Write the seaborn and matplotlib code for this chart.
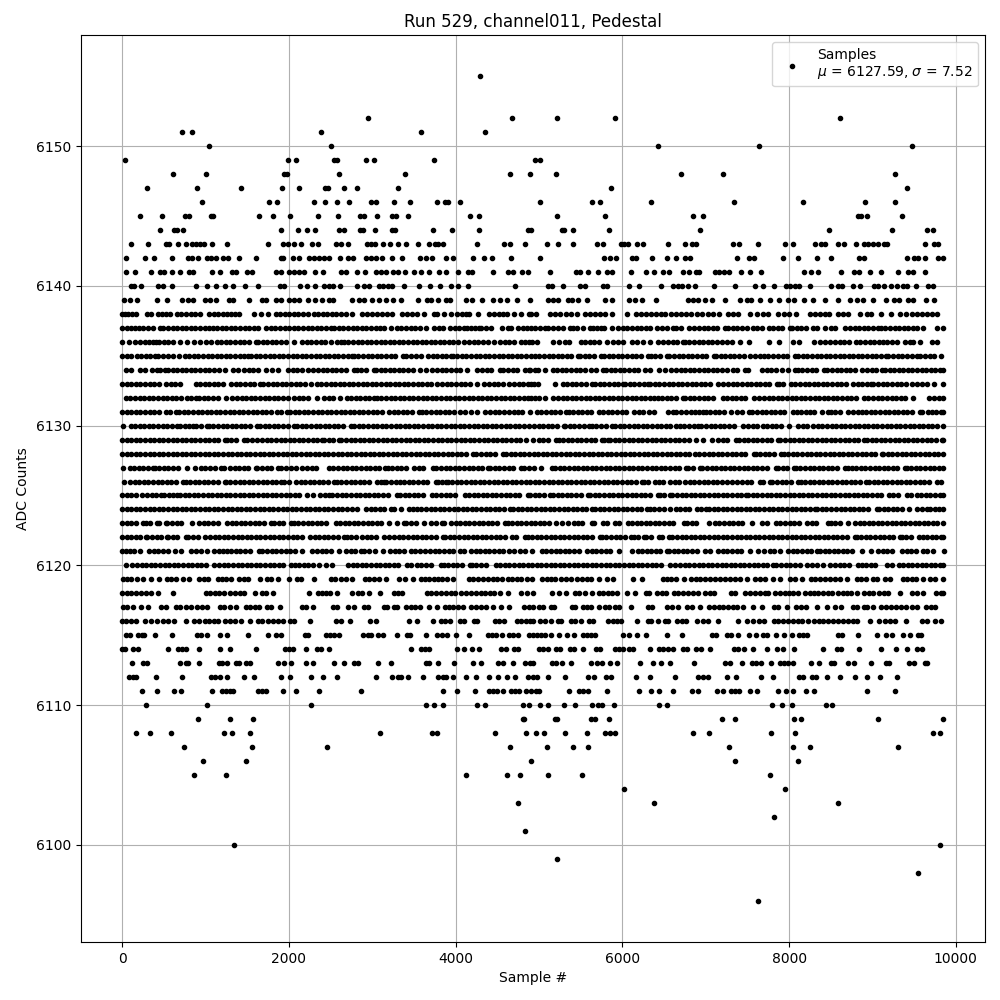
import matplotlib
matplotlib.use('Agg')
import pandas as pd
import matplotlib.pyplot as plt
import seaborn as sns

# sample numbers, one list per ADC count level
s6155 = [4293]
s6152 = [2952, 4677, 5216, 5910, 8605]
s6151 = [722, 842, 2386, 3586, 4354]
s6150 = [1042, 2506, 6432, 7644, 9480]
s6149 = [34, 1990, 2086, 2542, 2582, 2926, 3022, 3742, 4948, 5012]
s6148 = [610, 1006, 1942, 1974, 2602, 3394, 4654, 4894, 5208, 6708, 7212, 9276]
s6147 = [298, 898, 1426, 1918, 2122, 2434, 2474, 2666, 2818, 3310, 5868, 9420]
s6146 = [958, 1762, 1858, 2302, 2434, 2578, 2722, 2982, 3042, 3262, 3454, 3778, 3874, 3914, 4054, 5016, 5640, 5736, 6348, 7344, 8172, 8916, 9276]
s6145 = [214, 478, 754, 802, 1062, 1086, 1642, 1810, 2014, 2350, 2590, 2854, 2902, 3058, 3238, 3286, 3430, 4174, 4282, 5220, 5796, 6852, 6972, 8832, 8868, 8940, 9360]
s6144 = [454, 622, 658, 730, 1906, 2110, 2218, 2314, 2602, 2658, 2854, 2890, 3034, 3238, 3274, 3730, 3958, 4282, 4870, 4904, 5276, 5300, 5404, 5844, 6936, 8484, 9240, 9660, 9732]
s6143 = [106, 310, 526, 562, 670, 766, 838, 886, 934, 982, 1078, 1258, 1750, 1930, 1990, 2062, 2146, 2278, 2350, 2566, 2626, 2710, 2938, 2986, 3034, 3130, 3214, 3310, 3406, 3550, 3682, 3754, 3790, 3850, 4258, 4582, 4654, 4834, 5100, 5232, 5412, 5700, 5772, 5988, 6024, 6072, 6180, 6252, 6552, 6756, 6840, 6888, 7332, 7404, 7632, 7956, 8052, 8316, 8388, 8436, 8592, 8664, 8808, 8904, 8952, 9012, 9072, 9144, 9180, 9636, 9744, 9792]
s6142 = [46, 274, 382, 598, 790, 838, 910, 1018, 1066, 1126, 1210, 1270, 1402, 1606, 1906, 1930, 2050, 2122, 2242, 2302, 2362, 2422, 2482, 2614, 2710, 2770, 2926, 2986, 3046, 3118, 3238, 3358, 3574, 3646, 3718, 3886, 3970, 4210, 4342, 4438, 4666, 5016, 5784, 5856, 5928, 6120, 6168, 6360, 6540, 6648, 6756, 6812, 7380, 7524, 7584, 7932, 8112, 8340, 8508, 8844, 8904, 9420, 9504, 9552, 9636, 9792, 9850]
s6141 = [46, 154, 346, 454, 502, 598, 694, 802, 850, 1078, 1174, 1318, 1366, 1498, 1558, 1846, 1906, 2002, 2062, 2122, 2182, 2314, 2410, 2626, 2686, 2818, 2914, 3046, 3106, 3166, 3250, 3310, 3394, 3502, 3586, 3682, 3802, 3886, 4030, 4150, 4202, 4450, 4630, 4690, 4798, 4870, 5136, 5448, 5496, 5592, 5712, 5820, 5880, 6108, 6288, 6384, 6492, 6564, 6732, 6804, 6888, 6924, 7116, 7164, 7224, 7284, 7428, 7536, 7668, 8184, 8268, 8352, 8628, 8784, 8844, 8976, 9108, 9312, 9432, 9492, 9636]
s6140 = [106, 142, 226, 430, 490, 598, 886, 1018, 1126, 1234, 1330, 1474, 1630, 1894, 1942, 2134, 2218, 2314, 2422, 2482, 2530, 2614, 2818, 2902, 2962, 3082, 3130, 3190, 3238, 3382, 3562, 3694, 3814, 3946, 4030, 4150, 4714, 5112, 5160, 5292, 5496, 5556, 5772, 5820, 6084, 6204, 6468, 6612, 6672, 6720, 6792, 6876, 7104, 7356, 7596, 7692, 7824, 7968, 8016, 8076, 8124, 8256, 8508, 8592, 8640, 8772, 8856, 9024, 9072, 9144, 9228, 9300, 9372, 9420, 9528, 9672, 9732]
s6139 = [22, 94, 178, 418, 538, 718, 790, 850, 994, 1054, 1126, 1282, 1330, 1522, 1678, 1726, 1846, 1906, 2002, 2062, 2122, 2230, 2314, 2398, 2482, 2530, 2762, 2842, 2902, 2998, 3082, 3166, 3250, 3346, 3550, 3658, 3706, 3790, 3886, 3934, 4126, 4198, 4318, 4450, 4534, 4618, 4738, 4894, 5112, 5172, 5232, 5352, 5400, 5472, 5580, 5796, 5880, 6084, 6156, 6240, 6408, 6792, 6852, 6912, 6996, 7080, 7236, 7416, 7492, 7548, 7656, 7776, 7884, 7992, 8064, 8184, 8292, 8436, 8592, 8736, 8820, 8892, 9012, 9168, 9264, 9324, 9432, 9492, 9648, 9744]
s6138 = [2, 40, 74, 122, 166, 302, 350, 430, 480, 530, 574, 654, 702, 766, 830, 880, 934, 1046, 1100, 1150, 1205, 1255, 1310, 1360, 1402, 1582, 1666, 1750, 1842, 1895, 1950, 2005, 2060, 2115, 2170, 2225, 2302, 2350, 2405, 2460, 2515, 2570, 2625, 2682, 2762, 2882, 2942, 3002, 3062, 3120, 3180, 3242, 3362, 3420, 3480, 3540, 3622, 3742, 3782, 3862, 3942, 4022, 4075, 4120, 4162, 4270, 4402, 4462, 4522, 4570, 4614, 4702, 4790, 4882, 4910, 4964, 5132, 5190, 5250, 5320, 5380, 5452, 5552, 5612, 5670, 5730, 5792, 5880, 6056, 6164, 6220, 6280, 6340, 6400, 6460, 6512, 6580, 6640, 6700, 6760, 6820, 6892, 6950, 7030, 7092, 7164, 7272, 7330, 7392, 7532, 7612, 7692, 7752, 7872, 7940, 8004, 8084, 8252, 8310, 8370, 8430, 8484, 8592, 8650, 8712, 8852, 8932, 8988, 9100, 9228, 9332, 9404, 9480, 9535, 9590, 9650, 9710, 9772]
s6137 = [2, 62, 102, 155, 205, 254, 310, 370, 454, 494, 550, 605, 660, 715, 770, 825, 880, 935, 990, 1038, 1086, 1140, 1195, 1250, 1305, 1360, 1415, 1470, 1525, 1580, 1635, 1722, 1782, 1840, 1895, 1950, 2005, 2060, 2115, 2170, 2225, 2280, 2335, 2390, 2445, 2502, 2542, 2600, 2655, 2710, 2765, 2820, 2875, 2930, 2982, 3042, 3094, 3142, 3222, 3294, 3350, 3405, 3460, 3515, 3570, 3642, 3742, 3800, 3854, 3934, 3990, 4045, 4100, 4142, 4182, 4235, 4282, 4302, 4360, 4422, 4562, 4630, 4670, 4750, 4814, 4860, 4902, 4950, 5010, 5072, 5112, 5170, 5230, 5290, 5372, 5404, 5460, 5530, 5612, 5644, 5700, 5740, 5780, 5872, 5952, 6005, 6060, 6115, 6170, 6225, 6280, 6332, 6420, 6480, 6540, 6604, 6644, 6700, 6796, 6864, 6920, 6975, 7030, 7085, 7140, 7232, 7268, 7325, 7380, 7435, 7490, 7564, 7612, 7680, 7756, 7810, 7865, 7920, 8012, 8036, 8090, 8145, 8200, 8292, 8340, 8428, 8500, 8556, 8676, 8730, 8785, 8840, 8895, 8950, 9005, 9072, 9100, 9155, 9210, 9265, 9320, 9375, 9430, 9485, 9540, 9604, 9772, 9850]
s6136 = [0, 82, 154, 214, 270, 326, 366, 406, 442, 500, 555, 610, 690, 774, 862, 930, 1002, 1070, 1134, 1190, 1245, 1300, 1355, 1410, 1465, 1520, 1602, 1630, 1685, 1740, 1795, 1850, 1905, 1962, 2066, 2162, 2215, 2270, 2325, 2380, 2435, 2510, 2574, 2622, 2662, 2715, 2770, 2825, 2880, 2942, 2990, 3045, 3100, 3155, 3210, 3265, 3320, 3375, 3430, 3485, 3540, 3602, 3642, 3700, 3755, 3810, 3865, 3920, 3974, 4034, 4102, 4160, 4215, 4270, 4325, 4394, 4466, 4534, 4590, 4645, 4700, 4782, 4834, 4882, 4912, 4980, 5172, 5240, 5312, 5364, 5500, 5555, 5610, 5665, 5720, 5820, 5892, 5950, 6012, 6120, 6180, 6244, 6332, 6428, 6492, 6550, 6604, 6652, 6732, 6748, 6805, 6860, 6915, 6970, 7025, 7080, 7135, 7190, 7252, 7320, 7416, 7524, 7764, 7884, 8052, 8124, 8296, 8372, 8436, 8492, 8550, 8605, 8660, 8715, 8800, 8852, 8910, 8965, 9020, 9075, 9124, 9180, 9235, 9292, 9396, 9445, 9492, 9572, 9712, 9780]
s6135 = [2, 55, 110, 174, 230, 285, 340, 390, 430, 494, 550, 610, 678, 750, 805, 860, 915, 970, 1025, 1080, 1135, 1190, 1245, 1300, 1355, 1410, 1465, 1510, 1550, 1605, 1660, 1715, 1770, 1825, 1880, 1935, 1990, 2045, 2100, 2155, 2210, 2265, 2320, 2375, 2430, 2485, 2540, 2595, 2650, 2705, 2762, 2782, 2835, 2890, 2945, 3000, 3055, 3110, 3165, 3220, 3275, 3374, 3406, 3462, 3530, 3590, 3670, 3725, 3780, 3835, 3890, 3942, 3966, 4020, 4075, 4130, 4185, 4240, 4295, 4350, 4405, 4460, 4515, 4570, 4625, 4680, 4742, 4782, 4840, 4900, 4950, 5005, 5060, 5115, 5170, 5225, 5280, 5335, 5390, 5472, 5492, 5550, 5605, 5660, 5740, 5780, 5835, 5890, 5945, 6000, 6055, 6110, 6165, 6220, 6312, 6340, 6395, 6450, 6532, 6564, 6620, 6675, 6730, 6785, 6840, 6895, 6950, 7005, 7100, 7124, 7180, 7235, 7290, 7345, 7400, 7455, 7532, 7592, 7650, 7700, 7752, 7812, 7870, 7925, 7980, 8072, 8112, 8165, 8220, 8275, 8330, 8385, 8440, 8495, 8550, 8605, 8660, 8715, 8770, 8825, 8880, 8935, 8990, 9045, 9100, 9164, 9192, 9250, 9305, 9360, 9415, 9470, 9540, 9572, 9630, 9685, 9740, 9820]
s6134 = [42, 110, 214, 270, 362, 414, 460, 510, 550, 605, 660, 715, 770, 825, 880, 935, 990, 1045, 1100, 1162, 1230, 1326, 1390, 1462, 1520, 1575, 1630, 1730, 1794, 1870, 1990, 2045, 2100, 2155, 2230, 2294, 2350, 2405, 2460, 2515, 2570, 2625, 2680, 2782, 2814, 2870, 2925, 3022, 3042, 3100, 3155, 3210, 3265, 3320, 3375, 3430, 3485, 3574, 3646, 3722, 3780, 3835, 3890, 3945, 4000, 4055, 4142, 4262, 4320, 4375, 4430, 4534, 4574, 4630, 4685, 4740, 4830, 4882, 4892, 4950, 4992, 5072, 5164, 5220, 5275, 5330, 5385, 5440, 5495, 5552, 5620, 5680, 5772, 5804, 5860, 5915, 5970, 6025, 6080, 6135, 6190, 6272, 6336, 6444, 6512, 6588, 6644, 6700, 6755, 6810, 6865, 6920, 6975, 7030, 7085, 7140, 7195, 7250, 7332, 7380, 7472, 7512, 7672, 7730, 7785, 7840, 7912, 7992, 8072, 8104, 8160, 8215, 8270, 8325, 8420, 8452, 8510, 8572, 8624, 8680, 8735, 8790, 8872, 8932, 8990, 9045, 9112, 9152, 9205, 9260, 9315, 9370, 9425, 9480, 9535, 9590, 9645, 9700, 9755, 9810, 9850]
s6133 = [0, 55, 110, 165, 220, 275, 330, 385, 440, 522, 582, 640, 694, 882, 934, 990, 1045, 1100, 1155, 1210, 1302, 1362, 1420, 1475, 1530, 1585, 1654, 1694, 1750, 1805, 1860, 1915, 1970, 2025, 2080, 2135, 2190, 2270, 2334, 2390, 2445, 2500, 2555, 2610, 2665, 2720, 2775, 2830, 2885, 2940, 2995, 3050, 3105, 3160, 3215, 3270, 3325, 3380, 3435, 3490, 3545, 3600, 3655, 3710, 3782, 3840, 3895, 3950, 4005, 4060, 4115, 4170, 4262, 4342, 4400, 4455, 4510, 4574, 4642, 4700, 4755, 4810, 4865, 4902, 4940, 4992, 5196, 5284, 5340, 5395, 5450, 5505, 5560, 5632, 5672, 5730, 5785, 5840, 5895, 5950, 6012, 6032, 6090, 6145, 6200, 6255, 6312, 6332, 6390, 6445, 6500, 6555, 6610, 6665, 6720, 6775, 6830, 6885, 6940, 6995, 7050, 7144, 7212, 7270, 7325, 7380, 7435, 7490, 7545, 7600, 7655, 7710, 7765, 7852, 7876, 7930, 8020, 8076, 8130, 8185, 8240, 8295, 8350, 8405, 8460, 8515, 8570, 8625, 8680, 8772, 8824, 8872, 8930, 8980, 9012, 9070, 9125, 9180, 9235, 9290, 9345, 9400, 9472, 9540, 9595, 9650, 9740, 9852]
s6132 = [46, 100, 155, 210, 265, 320, 375, 430, 485, 540, 595, 650, 705, 782, 822, 882, 922, 980, 1035, 1090, 1145, 1242, 1322, 1380, 1435, 1490, 1545, 1600, 1655, 1710, 1765, 1820, 1875, 1930, 1990, 2062, 2120, 2174, 2230, 2334, 2422, 2480, 2535, 2614, 2694, 2742, 2800, 2855, 2910, 2965, 3022, 3054, 3110, 3165, 3220, 3275, 3330, 3385, 3440, 3495, 3550, 3605, 3660, 3715, 3770, 3825, 3880, 3935, 3990, 4045, 4100, 4155, 4210, 4265, 4320, 4375, 4430, 4485, 4540, 4595, 4650, 4705, 4760, 4815, 4870, 4902, 4950, 5005, 5072, 5172, 5230, 5285, 5340, 5395, 5450, 5505, 5560, 5615, 5670, 5725, 5780, 5835, 5890, 5945, 6000, 6055, 6110, 6165, 6220, 6275, 6330, 6385, 6432, 6472, 6530, 6585, 6640, 6724, 6752, 6810, 6865, 6920, 6975, 7030, 7085, 7204, 7252, 7310, 7365, 7420, 7475, 7580, 7644, 7700, 7755, 7810, 7865, 7920, 7975, 8030, 8085, 8140, 8195, 8250, 8305, 8360, 8415, 8470, 8525, 8580, 8635, 8690, 8745, 8800, 8900, 8952, 9010, 9065, 9120, 9175, 9230, 9285, 9340, 9395, 9492, 9684, 9740, 9795, 9850]
s6131 = [0, 55, 110, 165, 220, 275, 330, 385, 440, 522, 574, 642, 682, 740, 795, 850, 905, 960, 1015, 1070, 1125, 1180, 1235, 1290, 1345, 1400, 1455, 1510, 1565, 1620, 1675, 1730, 1785, 1862, 1902, 1974, 2014, 2070, 2125, 2180, 2235, 2290, 2345, 2400, 2455, 2510, 2565, 2620, 2675, 2730, 2785, 2840, 2895, 2950, 3005, 3060, 3115, 3196, 3256, 3310, 3365, 3420, 3475, 3556, 3596, 3650, 3705, 3760, 3815, 3870, 3925, 3980, 4056, 4116, 4190, 4256, 4356, 4416, 4470, 4525, 4576, 4636, 4696, 4750, 4796, 4888, 4976, 5030, 5085, 5140, 5195, 5250, 5328, 5356, 5410, 5465, 5520, 5575, 5630, 5716, 5768, 5825, 5880, 5935, 5990, 6045, 6136, 6196, 6250, 6316, 6384, 6549, 6609, 6649, 6705, 6760, 6829, 6869, 6920, 6969, 7001, 7055, 7110, 7165, 7220, 7309, 7377, 7435, 7521, 7561, 7615, 7670, 7725, 7780, 7835, 7890, 7945, 8049, 8089, 8145, 8200, 8249, 8297, 8389, 8469, 8497, 8550, 8605, 8709, 8761, 8829, 8869, 8925, 8980, 9035, 9090, 9145, 9200, 9255, 9310, 9365, 9420, 9475, 9569, 9589, 9669, 9709, 9765, 9820, 9850]
s6130 = [10, 102, 155, 210, 265, 320, 375, 430, 485, 540, 595, 654, 694, 750, 805, 854, 882, 950, 1014, 1042, 1095, 1150, 1205, 1260, 1315, 1370, 1425, 1480, 1535, 1622, 1654, 1710, 1765, 1820, 1875, 1930, 1985, 2062, 2102, 2155, 2210, 2265, 2320, 2375, 2430, 2485, 2540, 2595, 2650, 2750, 2782, 2840, 2895, 2950, 3005, 3060, 3115, 3170, 3225, 3280, 3335, 3390, 3445, 3500, 3555, 3610, 3665, 3720, 3775, 3830, 3885, 3940, 3995, 4050, 4105, 4160, 4215, 4270, 4325, 4380, 4435, 4490, 4545, 4600, 4655, 4710, 4765, 4820, 4880, 4936, 4996, 5050, 5105, 5160, 5215, 5296, 5316, 5370, 5425, 5480, 5536, 5596, 5636, 5690, 5745, 5800, 5876, 5916, 5970, 6025, 6080, 6135, 6190, 6245, 6300, 6355, 6410, 6465, 6520, 6576, 6649, 6689, 6745, 6800, 6855, 6909, 6949, 7005, 7060, 7115, 7170, 7225, 7280, 7335, 7449, 7509, 7565, 7620, 7689, 7737, 7790, 7845, 7900, 8001, 8109, 8165, 8220, 8289, 8345, 8400, 8455, 8510, 8565, 8620, 8675, 8730, 8785, 8840, 8895, 8950, 9005, 9060, 9115, 9170, 9225, 9280, 9335, 9390, 9445, 9500, 9555, 9610, 9665, 9720, 9769, 9841]
s6129 = [0, 55, 110, 165, 220, 275, 330, 385, 440, 495, 550, 605, 660, 715, 770, 825, 880, 935, 990, 1045, 1100, 1155, 1230, 1254, 1310, 1365, 1462, 1502, 1560, 1615, 1682, 1734, 1790, 1845, 1900, 1955, 2010, 2065, 2120, 2175, 2230, 2285, 2340, 2402, 2422, 2480, 2535, 2602, 2630, 2685, 2740, 2795, 2850, 2905, 2960, 3015, 3070, 3125, 3180, 3235, 3290, 3345, 3400, 3455, 3510, 3565, 3620, 3675, 3730, 3785, 3840, 3895, 3950, 4005, 4060, 4115, 4170, 4225, 4280, 4335, 4390, 4445, 4500, 4555, 4610, 4665, 4720, 4775, 4848, 4928, 4996, 5050, 5105, 5208, 5236, 5290, 5345, 5400, 5455, 5510, 5565, 5620, 5675, 5756, 5776, 5824, 5856, 5910, 5965, 6020, 6075, 6130, 6185, 6240, 6295, 6350, 6405, 6460, 6515, 6576, 6630, 6685, 6740, 6795, 6889, 6969, 7081, 7149, 7205, 7260, 7369, 7401, 7455, 7510, 7565, 7620, 7675, 7730, 7785, 7869, 7897, 7950, 8005, 8060, 8115, 8170, 8225, 8280, 8335, 8390, 8445, 8500, 8555, 8610, 8665, 8720, 8775, 8830, 8897, 8937, 8990, 9045, 9100, 9155, 9210, 9265, 9320, 9375, 9430, 9485, 9540, 9595, 9650, 9705, 9760, 9829, 9845]
s6128 = [0, 55, 110, 165, 220, 275, 330, 385, 440, 495, 550, 605, 660, 715, 770, 825, 880, 935, 990, 1045, 1100, 1155, 1210, 1265, 1320, 1375, 1430, 1485, 1540, 1595, 1650, 1705, 1760, 1815, 1870, 1925, 1980, 2035, 2090, 2145, 2200, 2255, 2310, 2365, 2420, 2475, 2530, 2585, 2640, 2695, 2750, 2805, 2860, 2915, 2970, 3025, 3080, 3135, 3190, 3245, 3300, 3355, 3410, 3465, 3520, 3575, 3630, 3685, 3740, 3795, 3850, 3905, 3960, 4015, 4070, 4125, 4208, 4248, 4305, 4360, 4415, 4470, 4568, 4608, 4660, 4715, 4770, 4825, 4880, 4935, 4990, 5045, 5100, 5155, 5210, 5265, 5320, 5375, 5430, 5485, 5540, 5595, 5650, 5705, 5760, 5815, 5870, 5925, 5980, 6035, 6090, 6145, 6200, 6255, 6310, 6365, 6420, 6475, 6530, 6585, 6640, 6695, 6750, 6801, 6869, 6925, 6980, 7035, 7090, 7145, 7200, 7255, 7310, 7365, 7420, 7475, 7577, 7601, 7655, 7710, 7765, 7820, 7909, 7937, 7990, 8045, 8100, 8155, 8210, 8265, 8320, 8375, 8430, 8485, 8540, 8595, 8650, 8705, 8760, 8815, 8870, 8925, 8980, 9035, 9109, 9129, 9185, 9240, 9295, 9350, 9405, 9460, 9515, 9570, 9625, 9680, 9735, 9790, 9849]
s6127 = [14, 94, 142, 200, 255, 310, 374, 390, 445, 500, 555, 610, 665, 782, 870, 942, 1000, 1055, 1110, 1182, 1222, 1294, 1350, 1405, 1460, 1515, 1602, 1622, 1680, 1735, 1790, 1870, 1902, 1960, 2030, 2086, 2162, 2220, 2275, 2330, 2482, 2534, 2590, 2645, 2700, 2755, 2810, 2865, 2920, 2975, 3030, 3085, 3156, 3184, 3240, 3295, 3350, 3405, 3496, 3556, 3610, 3728, 3768, 3825, 3880, 3935, 3990, 4045, 4100, 4155, 4210, 4265, 4320, 4384, 4416, 4470, 4525, 4580, 4635, 4690, 4784, 4824, 4880, 4935, 5024, 5156, 5196, 5250, 5305, 5360, 5415, 5470, 5525, 5580, 5635, 5690, 5745, 5800, 5855, 5910, 5965, 6020, 6075, 6130, 6185, 6240, 6295, 6350, 6405, 6460, 6515, 6576, 6630, 6685, 6761, 6789, 6845, 6937, 6961, 7015, 7070, 7125, 7180, 7235, 7290, 7345, 7400, 7455, 7510, 7565, 7620, 7675, 7730, 7841, 7869, 7925, 7980, 8057, 8081, 8135, 8190, 8245, 8300, 8355, 8410, 8465, 8520, 8575, 8669, 8709, 8749, 8805, 8860, 8915, 8970, 9025, 9080, 9135, 9190, 9245, 9300, 9389, 9409, 9465, 9520, 9575, 9630, 9685, 9740, 9795, 9850]
s6126 = [22, 94, 150, 205, 260, 315, 370, 425, 480, 535, 590, 645, 734, 762, 815, 870, 925, 980, 1035, 1090, 1145, 1230, 1246, 1300, 1355, 1410, 1465, 1520, 1575, 1630, 1685, 1740, 1795, 1850, 1910, 1942, 2000, 2082, 2142, 2195, 2250, 2305, 2360, 2415, 2470, 2542, 2574, 2630, 2685, 2740, 2795, 2850, 2905, 2960, 3054, 3100, 3140, 3170, 3225, 3288, 3328, 3385, 3440, 3495, 3550, 3605, 3660, 3768, 3784, 3840, 3888, 3904, 3960, 4015, 4070, 4125, 4180, 4235, 4290, 4345, 4400, 4455, 4510, 4565, 4620, 4675, 4730, 4785, 4840, 4895, 4950, 5005, 5060, 5115, 5170, 5225, 5280, 5335, 5390, 5445, 5500, 5555, 5610, 5665, 5720, 5775, 5830, 5885, 5940, 5995, 6050, 6105, 6160, 6236, 6256, 6310, 6396, 6436, 6490, 6576, 6630, 6681, 6753, 6810, 6865, 6920, 6975, 7030, 7085, 7140, 7195, 7250, 7321, 7377, 7435, 7490, 7545, 7649, 7689, 7777, 7801, 7855, 7910, 7965, 8020, 8109, 8137, 8190, 8245, 8300, 8355, 8410, 8465, 8520, 8575, 8630, 8685, 8740, 8795, 8850, 8921, 8961, 9015, 9070, 9125, 9180, 9235, 9290, 9345, 9400, 9455, 9510, 9565, 9620, 9675, 9777, 9817]
s6125 = [0, 55, 110, 162, 242, 300, 355, 410, 470, 502, 560, 610, 662, 694, 750, 805, 860, 915, 970, 1025, 1080, 1135, 1190, 1245, 1300, 1355, 1410, 1465, 1520, 1575, 1630, 1685, 1740, 1795, 1850, 1905, 1960, 2015, 2070, 2125, 2222, 2290, 2374, 2430, 2482, 2522, 2580, 2635, 2690, 2745, 2800, 2855, 2910, 2965, 3020, 3075, 3130, 3185, 3296, 3336, 3390, 3445, 3500, 3555, 3610, 3716, 3768, 3824, 3880, 3935, 3990, 4116, 4156, 4216, 4270, 4325, 4380, 4435, 4490, 4545, 4600, 4655, 4710, 4765, 4864, 4896, 4950, 5005, 5060, 5136, 5168, 5225, 5280, 5335, 5390, 5445, 5500, 5584, 5616, 5670, 5725, 5780, 5835, 5890, 5945, 6000, 6055, 6110, 6165, 6220, 6275, 6330, 6424, 6448, 6500, 6577, 6601, 6655, 6710, 6765, 6820, 6875, 6930, 6985, 7040, 7095, 7150, 7205, 7260, 7315, 7370, 7425, 7489, 7509, 7565, 7620, 7675, 7730, 7785, 7840, 7895, 7950, 8005, 8060, 8115, 8170, 8225, 8280, 8335, 8390, 8445, 8500, 8555, 8610, 8665, 8720, 8775, 8830, 8885, 8940, 8995, 9050, 9105, 9201, 9249, 9305, 9409, 9457, 9529, 9585, 9640, 9695, 9750, 9805, 9850]
s6124 = [0, 55, 110, 165, 220, 275, 330, 385, 440, 495, 550, 605, 660, 715, 770, 825, 880, 935, 990, 1045, 1100, 1155, 1210, 1265, 1320, 1375, 1430, 1485, 1540, 1595, 1650, 1705, 1760, 1815, 1870, 1925, 1980, 2035, 2090, 2145, 2200, 2255, 2310, 2365, 2420, 2475, 2530, 2585, 2640, 2695, 2762, 2822, 2922, 2980, 3035, 3090, 3145, 3224, 3256, 3340, 3436, 3488, 3536, 3590, 3645, 3700, 3755, 3810, 3865, 3920, 3975, 4030, 4085, 4140, 4195, 4250, 4305, 4360, 4415, 4470, 4525, 4580, 4656, 4688, 4745, 4800, 4855, 4910, 4965, 5020, 5075, 5130, 5185, 5240, 5295, 5350, 5405, 5460, 5515, 5570, 5636, 5676, 5730, 5785, 5840, 5895, 5950, 6005, 6060, 6115, 6170, 6225, 6296, 6328, 6385, 6440, 6495, 6577, 6641, 6695, 6750, 6805, 6897, 6945, 7009, 7041, 7095, 7150, 7205, 7260, 7315, 7370, 7425, 7480, 7535, 7590, 7645, 7700, 7755, 7810, 7865, 7920, 7975, 8030, 8085, 8140, 8195, 8250, 8309, 8337, 8390, 8445, 8500, 8561, 8617, 8670, 8725, 8780, 8835, 8890, 8945, 9057, 9081, 9135, 9190, 9245, 9300, 9355, 9441, 9529, 9590, 9649, 9689, 9745, 9800, 9850]
s6123 = [0, 55, 110, 165, 254, 282, 340, 414, 446, 522, 542, 600, 655, 710, 838, 922, 980, 1035, 1090, 1145, 1262, 1314, 1370, 1425, 1480, 1535, 1590, 1645, 1700, 1790, 1822, 1880, 1935, 2022, 2062, 2115, 2170, 2225, 2280, 2335, 2390, 2445, 2562, 2614, 2670, 2725, 2780, 2835, 2890, 2945, 3000, 3055, 3110, 3196, 3296, 3384, 3408, 3465, 3520, 3624, 3704, 3770, 3836, 3856, 3944, 4000, 4055, 4110, 4165, 4220, 4275, 4330, 4385, 4440, 4495, 4596, 4624, 4680, 4735, 4790, 4845, 4900, 4955, 5010, 5065, 5120, 5208, 5276, 5350, 5424, 5464, 5520, 5636, 5656, 5768, 5816, 5916, 5956, 6064, 6116, 6170, 6225, 6280, 6335, 6390, 6445, 6500, 6555, 6610, 6737, 6777, 6830, 6885, 7041, 7109, 7165, 7220, 7275, 7330, 7385, 7440, 7561, 7673, 7730, 7849, 7897, 7950, 8005, 8060, 8115, 8217, 8269, 8325, 8461, 8497, 8550, 8605, 8709, 8789, 8845, 8900, 8955, 9010, 9065, 9120, 9175, 9230, 9285, 9340, 9395, 9450, 9505, 9560, 9615, 9670, 9725, 9780, 9849]
s6122 = [2, 55, 110, 165, 220, 282, 302, 360, 415, 470, 534, 550, 605, 660, 762, 790, 850, 905, 990, 1054, 1110, 1165, 1220, 1275, 1330, 1385, 1440, 1495, 1550, 1605, 1660, 1715, 1770, 1825, 1880, 1935, 1990, 2045, 2100, 2155, 2254, 2314, 2362, 2420, 2475, 2530, 2585, 2662, 2694, 2750, 2805, 2882, 2934, 2990, 3045, 3136, 3204, 3264, 3320, 3375, 3430, 3485, 3540, 3595, 3650, 3705, 3760, 3848, 3876, 3930, 3985, 4040, 4095, 4150, 4205, 4260, 4315, 4370, 4425, 4480, 4535, 4590, 4676, 4728, 4832, 4864, 4920, 4975, 5030, 5085, 5140, 5195, 5250, 5305, 5360, 5415, 5470, 5525, 5580, 5635, 5728, 5756, 5810, 5865, 5920, 5975, 6030, 6104, 6136, 6190, 6256, 6288, 6345, 6440, 6476, 6556, 6601, 6655, 6710, 6765, 6820, 6875, 6930, 6985, 7040, 7095, 7150, 7205, 7260, 7315, 7370, 7425, 7480, 7535, 7590, 7645, 7700, 7755, 7810, 7865, 7920, 7975, 8030, 8085, 8140, 8195, 8250, 8305, 8360, 8415, 8470, 8525, 8580, 8635, 8690, 8789, 8809, 8865, 8920, 8975, 9030, 9085, 9140, 9195, 9250, 9329, 9349, 9405, 9460, 9561, 9601, 9655, 9710, 9765, 9820, 9850]
s6121 = [0, 42, 95, 142, 214, 322, 380, 435, 490, 545, 630, 702, 822, 882, 950, 1022, 1102, 1160, 1214, 1254, 1310, 1365, 1420, 1475, 1530, 1642, 1682, 1740, 1795, 1850, 1905, 1960, 2015, 2070, 2162, 2282, 2340, 2395, 2450, 2505, 2602, 2682, 2740, 2795, 2870, 2902, 2960, 3036, 3128, 3216, 3270, 3325, 3380, 3464, 3516, 3575, 3636, 3696, 3750, 3805, 3860, 3915, 3970, 4056, 4104, 4184, 4248, 4296, 4350, 4405, 4460, 4515, 4570, 4636, 4704, 4770, 4836, 4920, 5036, 5090, 5145, 5200, 5255, 5310, 5365, 5420, 5475, 5576, 5636, 5690, 5745, 5800, 5855, 5956, 6116, 6184, 6236, 6290, 6345, 6400, 6455, 6536, 6561, 6615, 6670, 6725, 6780, 6835, 6890, 6989, 7049, 7149, 7205, 7260, 7315, 7370, 7425, 7537, 7629, 7700, 7769, 7821, 7897, 7989, 8045, 8100, 8155, 8210, 8265, 8329, 8369, 8425, 8480, 8535, 8590, 8645, 8700, 8755, 8869, 8977, 9069, 9125, 9180, 9235, 9349, 9409, 9465, 9520, 9609, 9649, 9729, 9857]
s6120 = [46, 122, 180, 235, 290, 345, 400, 455, 510, 565, 620, 675, 730, 785, 840, 895, 950, 1005, 1102, 1162, 1220, 1275, 1330, 1385, 1440, 1495, 1550, 1605, 1660, 1715, 1770, 1825, 1880, 1935, 2022, 2070, 2125, 2180, 2235, 2290, 2362, 2442, 2522, 2710, 2765, 2820, 2875, 2930, 2985, 3040, 3095, 3150, 3205, 3260, 3315, 3416, 3464, 3536, 3590, 3645, 3700, 3824, 3856, 3910, 3965, 4020, 4075, 4176, 4196, 4250, 4305, 4360, 4488, 4536, 4590, 4645, 4700, 4755, 4810, 4865, 4920, 4975, 5030, 5085, 5140, 5195, 5250, 5305, 5360, 5415, 5470, 5525, 5580, 5635, 5690, 5745, 5800, 5855, 5910, 5965, 6020, 6075, 6130, 6185, 6240, 6295, 6350, 6405, 6460, 6576, 6630, 6697, 6749, 6805, 6860, 6915, 6970, 7025, 7080, 7135, 7190, 7245, 7300, 7355, 7410, 7465, 7520, 7575, 7630, 7685, 7740, 7809, 7849, 7905, 7960, 8015, 8070, 8125, 8209, 8269, 8340, 8409, 8489, 8549, 8605, 8660, 8715, 8829, 8869, 8925, 8980, 9035, 9169, 9229, 9321, 9369, 9425, 9480, 9535, 9590, 9645, 9700, 9755, 9810, 9850]
s6119 = [6, 54, 110, 182, 254, 346, 442, 534, 590, 646, 734, 798, 922, 982, 1030, 1150, 1198, 1246, 1302, 1406, 1462, 1514, 1650, 1734, 1790, 1870, 2002, 2094, 2150, 2302, 2502, 2550, 2630, 2686, 2758, 2910, 2966, 3022, 3082, 3162, 3322, 3398, 3490, 3582, 3630, 3686, 3742, 3790, 3838, 3902, 3974, 4162, 4214, 4270, 4334, 4390, 4446, 4502, 4558, 4630, 4678, 4738, 4790, 4862, 4912, 5036, 5092, 5148, 5196, 5260, 5324, 5388, 5460, 5512, 5572, 5624, 5724, 5820, 5892, 6132, 6240, 6484, 6532, 6588, 6644, 6740, 6820, 6884, 6932, 6992, 7052, 7116, 7172, 7232, 7292, 7352, 7412, 7492, 7592, 7652, 7712, 7804, 7892, 8012, 8072, 8152, 8260, 8316, 8372, 8432, 8492, 8552, 8612, 8700, 8812, 8860, 8924, 9004, 9052, 9156, 9212, 9364, 9412, 9476, 9524, 9612, 9692, 9752, 9848]
s6118 = [0, 54, 102, 162, 222, 286, 342, 430, 610, 1002, 1054, 1110, 1166, 1222, 1294, 1358, 1414, 1462, 1594, 1678, 1726, 1810, 2242, 2350, 2398, 2446, 2494, 2582, 2758, 2834, 2878, 2962, 3094, 3262, 3310, 3358, 3662, 3710, 3766, 3822, 3886, 3942, 3998, 4070, 4126, 4182, 4242, 4302, 4354, 4414, 4462, 4534, 4630, 4786, 4862, 4932, 5160, 5244, 5324, 5436, 5484, 5556, 5636, 5716, 5772, 5832, 5876, 5936, 6060, 6148, 6280, 6324, 6420, 6472, 6524, 6620, 6672, 6732, 6792, 6852, 6912, 6992, 7052, 7104, 7308, 7348, 7476, 7532, 7592, 7652, 7712, 7752, 7836, 7892, 7952, 8004, 8052, 8112, 8196, 8252, 8300, 8348, 8412, 8472, 8516, 8588, 8644, 8700, 8748, 8820, 8900, 8956, 9012, 9084, 9140, 9192, 9336, 9480, 9532, 9612, 9764, 9820, 9850]
s6117 = [6, 62, 134, 222, 310, 470, 526, 646, 694, 766, 830, 894, 958, 1018, 1174, 1222, 1294, 1366, 1486, 1534, 1590, 1642, 1742, 1790, 1894, 2158, 2206, 2290, 2530, 2578, 2710, 2782, 2902, 2950, 3142, 3178, 3262, 3298, 3406, 3462, 3514, 3574, 3682, 3778, 3874, 3922, 3970, 4030, 4090, 4186, 4246, 4306, 4366, 4450, 4546, 4642, 4822, 4882, 4932, 4996, 5052, 5140, 5180, 5400, 5436, 5532, 5580, 5628, 5724, 5796, 5844, 5916, 5964, 6108, 6312, 6360, 6540, 6600, 6672, 6780, 6840, 6936, 7044, 7104, 7164, 7212, 7272, 7332, 7380, 7452, 7572, 7680, 7824, 7872, 7980, 8088, 8148, 8208, 8340, 8460, 8556, 8628, 8772, 8820, 8904, 8940, 9012, 9108, 9168, 9228, 9288, 9348, 9408, 9480, 9540, 9648, 9708, 9756]
s6116 = [0, 46, 102, 166, 270, 342, 414, 486, 550, 622, 766, 862, 926, 990, 1042, 1102, 1150, 1230, 1294, 1354, 1426, 1534, 1630, 1678, 1750, 1810, 1870, 1930, 2014, 2062, 2254, 2566, 2626, 2734, 2974, 3046, 3442, 3538, 3730, 3826, 3874, 3934, 4054, 4102, 4222, 4262, 4474, 4522, 4582, 4738, 4786, 4846, 4894, 4932, 5012, 5072, 5140, 5232, 5268, 5380, 5436, 5500, 5604, 5652, 5832, 5892, 5940, 5988, 6180, 6312, 6348, 6432, 6516, 6552, 6660, 6720, 6768, 6900, 6972, 7032, 7152, 7392, 7500, 7572, 7644, 7704, 7824, 7872, 7932, 7992, 8052, 8112, 8160, 8232, 8304, 8364, 8412, 8472, 8532, 8592, 8652, 8712, 8772, 8820, 8976, 9084, 9156, 9216, 9276, 9408, 9600, 9660, 9756, 9820]
s6115 = [46, 94, 190, 238, 262, 394, 598, 898, 946, 1018, 1174, 1258, 1510, 1750, 1846, 1906, 2194, 2230, 2446, 2494, 2542, 2602, 2890, 2950, 2986, 3070, 3130, 3298, 3418, 3454, 3646, 3778, 3838, 3898, 4006, 4162, 4390, 4438, 4486, 4558, 4642, 4690, 4750, 4882, 4932, 4980, 5028, 5076, 5148, 5244, 5332, 5424, 5532, 5580, 5628, 5676, 6012, 6084, 6180, 6288, 6540, 6720, 7080, 7128, 7260, 7308, 7392, 7524, 7608, 7692, 7740, 7848, 7944, 8040, 8124, 8172, 8220, 8592, 8640, 8832, 9060, 9168, 9240, 9372, 9456, 9552, 9588]
s6114 = [0, 38, 126, 190, 550, 670, 718, 766, 922, 1174, 1294, 1606, 1954, 2002, 2050, 2206, 2338, 2386, 2482, 3466, 3586, 3634, 3682, 4018, 4102, 4198, 4282, 4546, 4606, 4702, 4750, 4996, 5044, 5104, 5200, 5248, 5376, 5416, 5524, 5680, 5728, 5912, 5964, 6012, 6084, 6132, 6336, 6444, 6492, 6552, 6612, 6732, 6780, 6888, 6948, 7056, 7344, 7392, 7464, 7572, 7740, 7860, 7932, 8064, 8412, 8580, 8628, 8844, 9108, 9288, 9420, 9540, 9600]
s6113 = [118, 250, 298, 694, 766, 790, 922, 1162, 1198, 1258, 1366, 1402, 1486, 1534, 1870, 1942, 2026, 2206, 2290, 2542, 2662, 2782, 2830, 3070, 3226, 3646, 3682, 3790, 3982, 4210, 4306, 4510, 4570, 4690, 4834, 4894, 4932, 5160, 5208, 5280, 5388, 5628, 5700, 5760, 5856, 5940, 6216, 6372, 6468, 6576, 6864, 7236, 7296, 7440, 7560, 7608, 7668, 7788, 7896, 7944, 7992, 8052, 8268, 8364, 8508, 8544, 8712, 8784, 8988, 9168, 9204, 9444, 9504, 9636, 9660]
s6112 = [82, 130, 166, 406, 718, 1066, 1114, 1174, 1258, 1462, 1582, 1906, 2014, 2266, 2410, 2578, 3046, 3238, 3310, 3346, 3430, 3610, 3790, 3850, 3886, 3970, 4126, 4246, 4402, 4510, 4618, 4714, 4870, 4932, 4980, 5112, 5316, 5592, 5664, 5808, 5868, 6168, 6336, 6636, 6912, 6972, 7032, 7260, 7368, 7668, 7812, 8124, 8172, 8280, 8328, 8460, 8616, 8796, 8940, 9096, 9300]
s6111 = [238, 418, 622, 706, 1078, 1198, 1246, 1294, 1330, 1630, 1678, 1726, 1930, 2086, 2362, 2866, 3850, 4018, 4234, 4402, 4450, 4498, 4570, 4666, 4714, 4762, 4846, 4904, 4960, 4996, 5364, 5484, 5532, 5592, 5820, 6204, 6348, 6444, 6612, 6840, 6912, 7140, 7212, 7308, 7356, 7404, 7536, 7620, 7872, 7968, 8052, 8208, 8304, 8940, 9276]
s6110 = [286, 1018, 2266, 3646, 3742, 3850, 4258, 4354, 4810, 4882, 5016, 5112, 5304, 5436, 5640, 5712, 5760, 5904, 6444, 6540, 7800, 7920, 8040, 8448, 8520]
s6109 = [910, 1294, 1570, 4810, 4822, 5196, 5220, 5628, 5676, 5844, 7200, 7356, 8064, 8148, 9072, 9850]
s6108 = [166, 334, 586, 1222, 1318, 1534, 3094, 3714, 3778, 4474, 4846, 4968, 5064, 5316, 5580, 5796, 5856, 5916, 6852, 7044, 7788, 8076, 9732, 9816]
s6107 = [742, 1558, 2458, 4654, 5100, 5412, 5592, 7284, 8052, 8256, 9312]
s6106 = [970, 1486, 4900, 7356, 8112]
s6105 = [862, 1246, 4126, 4618, 4774, 5112, 5516, 7776]
s6104 = [6024, 7956]
s6103 = [4750, 6384, 8592]
s6102 = [7824]
s6101 = [4834]
s6100 = [1342, 9816]
s6099 = [5220]
s6098 = [9551]
s6096 = [7630]

levels = [6155, 6152, 6151, 6150, 6149, 6148, 6147, 6146, 6145, 6144, 6143, 6142, 6141, 6140, 6139, 6138, 6137, 6136,
          6135, 6134, 6133, 6132, 6131, 6130, 6129, 6128, 6127, 6126, 6125, 6124, 6123, 6122, 6121, 6120, 6119, 6118,
          6117, 6116, 6115, 6114, 6113, 6112, 6111, 6110, 6109, 6108, 6107, 6106, 6105, 6104, 6103, 6102, 6101, 6100,
          6099, 6098, 6096]
samples = [s6155, s6152, s6151, s6150, s6149, s6148, s6147, s6146, s6145, s6144, s6143, s6142, s6141, s6140, s6139, s6138, s6137, s6136,
           s6135, s6134, s6133, s6132, s6131, s6130, s6129, s6128, s6127, s6126, s6125, s6124, s6123, s6122, s6121, s6120, s6119, s6118,
           s6117, s6116, s6115, s6114, s6113, s6112, s6111, s6110, s6109, s6108, s6107, s6106, s6105, s6104, s6103, s6102, s6101, s6100,
           s6099, s6098, s6096]

data = pd.concat([pd.DataFrame({'sample': s, 'adc': lvl}) for lvl, s in zip(levels, samples)])

fig, ax = plt.subplots(figsize=(10, 10), dpi=100)

sns.scatterplot(x='sample', y='adc', data=data, color='black', marker='.', s=36, linewidth=1,
                edgecolor='black', label='Samples\n$\\mu$ = 6127.59, $\\sigma$ = 7.52', ax=ax)

ax.set_title('Run 529, channel011, Pedestal')
ax.set_xlabel('Sample #')
ax.set_ylabel('ADC Counts')
ax.grid(True)
ax.set_axisbelow(True)
ax.legend(loc='upper right')

fig.subplots_adjust(left=0.081, right=0.985, top=0.965, bottom=0.058)
plt.savefig('out.png')
